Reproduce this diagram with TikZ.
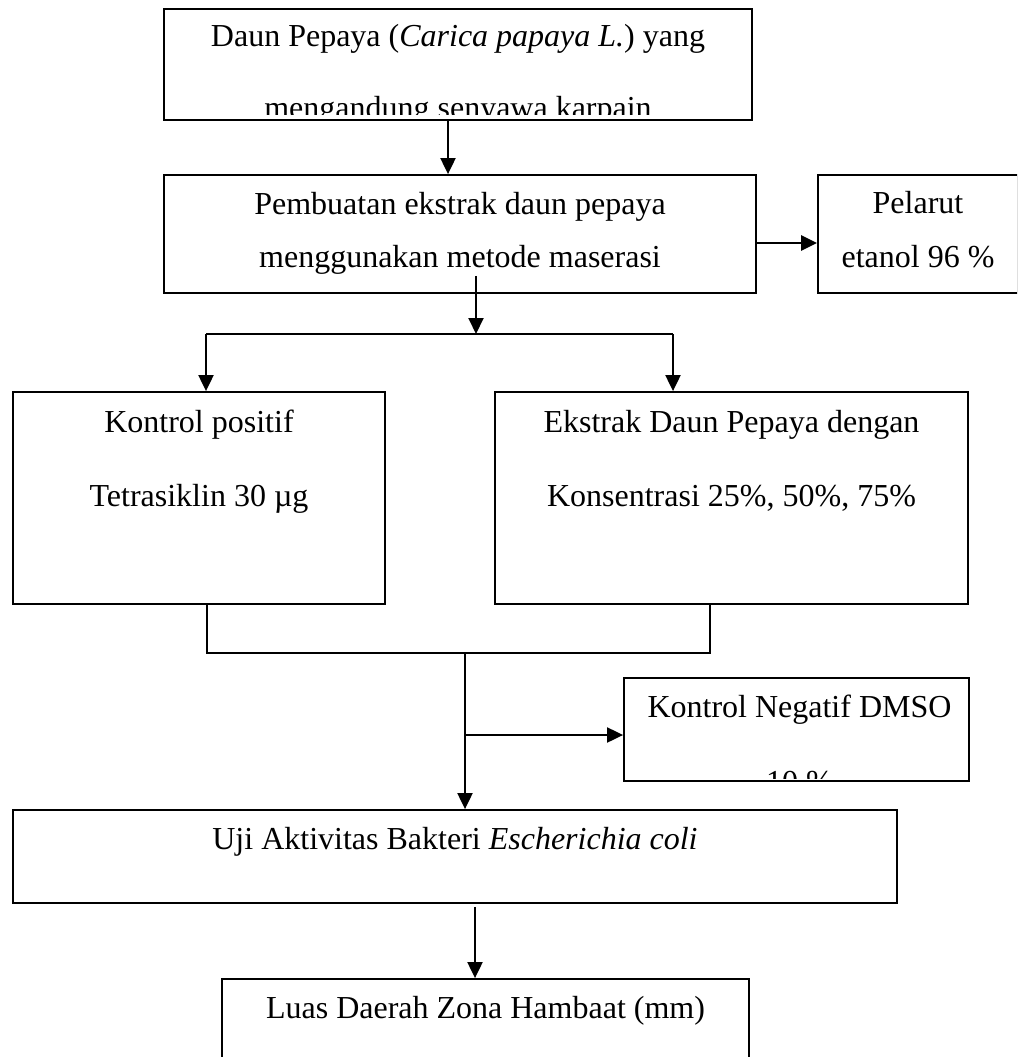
\documentclass[tikz,border=0pt]{standalone}
\usepackage{fontspec}
\setmainfont{Liberation Serif}
\usetikzlibrary{arrows.meta,calc}
\begin{document}
\begin{tikzpicture}[x=1pt,y=-1pt,
  box/.style={draw, line width=1.8pt, inner sep=0pt},
  txt/.style={anchor=base, inner sep=0pt, font=\fontsize{32}{38}\selectfont},
  arr/.style={line width=2pt, -{Triangle[length=16pt,width=15pt]}},
  ln/.style={line width=2pt}]
\clip (0,0) rectangle (1017,1057);
\fill[white] (0,0) rectangle (1017,1057);
% boxes
\node[box, minimum width=588pt, minimum height=111pt] (b1) at (458,64.5) {};
\node[box, minimum width=592pt, minimum height=118pt] (b2) at (460,234) {};
\node[box, minimum width=200pt, minimum height=118pt] (b3) at (918,234) {};
\node[box, minimum width=372pt, minimum height=212pt] (b4) at (199,498) {};
\node[box, minimum width=473pt, minimum height=212pt] (b5) at (731.5,498) {};
\node[box, minimum width=345pt, minimum height=103pt] (b6) at (796.5,729.5) {};
\node[box, minimum width=884pt, minimum height=93pt] (b7) at (455,856.5) {};
\node[box, minimum width=527pt, minimum height=140pt] (b8) at (485.5,1049) {};
% texts
\node[txt] (t1a) at ($(b1.north)+(0,38)$) {Daun Pepaya (\textit{Carica papaya L.}) yang};
\begin{scope}
  \clip ($(b1.south west)+(0,-6)$) rectangle (b1.north east);
  \node[txt] (t1b) at ($(b1.north)+(0,110)$) {mengandung senyawa karpain};
\end{scope}
\node[txt] (t2a) at ($(b2.north)+(0,40)$) {Pembuatan ekstrak daun pepaya};
\node[txt] (t2b) at ($(b2.north)+(0,93)$) {menggunakan metode maserasi};
\node[txt] (t3a) at ($(b3.north)+(0,39)$) {Pelarut};
\node[txt] (t3b) at ($(b3.north)+(0,93)$) {etanol 96 \%};
\node[txt] (t4a) at ($(b4.north)+(0,41)$) {Kontrol positif};
\node[txt] (t4b) at ($(b4.north)+(0,115)$) {Tetrasiklin 30 µg};
\node[txt] (t5a) at ($(b5.north)+(0,41)$) {Ekstrak Daun Pepaya dengan};
\node[txt] (t5b) at ($(b5.north)+(0,115)$) {Konsentrasi 25\%, 50\%, 75\%};
\node[txt] (t6a) at ($(b6.north)+(3,40)$) {Kontrol Negatif DMSO};
\begin{scope}
  \clip ($(b6.south west)+(0,-3)$) rectangle (b6.north east);
  \node[txt] (t6b) at ($(b6.north)+(3,115)$) {10 \%};
\end{scope}
\node[txt] (t7) at ($(b7.north)+(0,40)$) {Uji Aktivitas Bakteri \textit{Escherichia coli}};
\node[txt] (t8) at ($(b8.north)+(0,40)$) {Luas Daerah Zona Hambaat (mm)};
% connectors
\coordinate (a1) at (448,0);
\draw[arr] (a1 |- b1.south) -- (a1 |- b2.north);
\draw[arr, line width=2.6pt] ($(b2.east)+(0,9)$) -- ($(b3.west)+(0,9)$);
\coordinate (s) at (476,334);
\draw[arr] ($(s |- b2.south)+(0,-18)$) -- (s);
\coordinate (sL) at (206,334);
\coordinate (sR) at (673,334);
\draw[ln] (sL) -- (sR);
\draw[arr] (sL) -- (sL |- b4.north);
\draw[arr] (sR) -- (sR |- b5.north);
\coordinate (jL) at (207,653);
\coordinate (jR) at (710,653);
\draw[ln] (jL |- b4.south) -- (jL) -- (jR) -- (jR |- b5.south);
\coordinate (j) at (465,653);
\draw[arr] (j) -- (j |- b7.north);
\coordinate (k) at (465,735);
\draw[arr] (k) -- (k -| b6.west);
\coordinate (m) at (475,0);
\draw[arr] ($(m |- b7.south)+(0,3)$) -- (m |- b8.north);
\end{tikzpicture}
\end{document}
